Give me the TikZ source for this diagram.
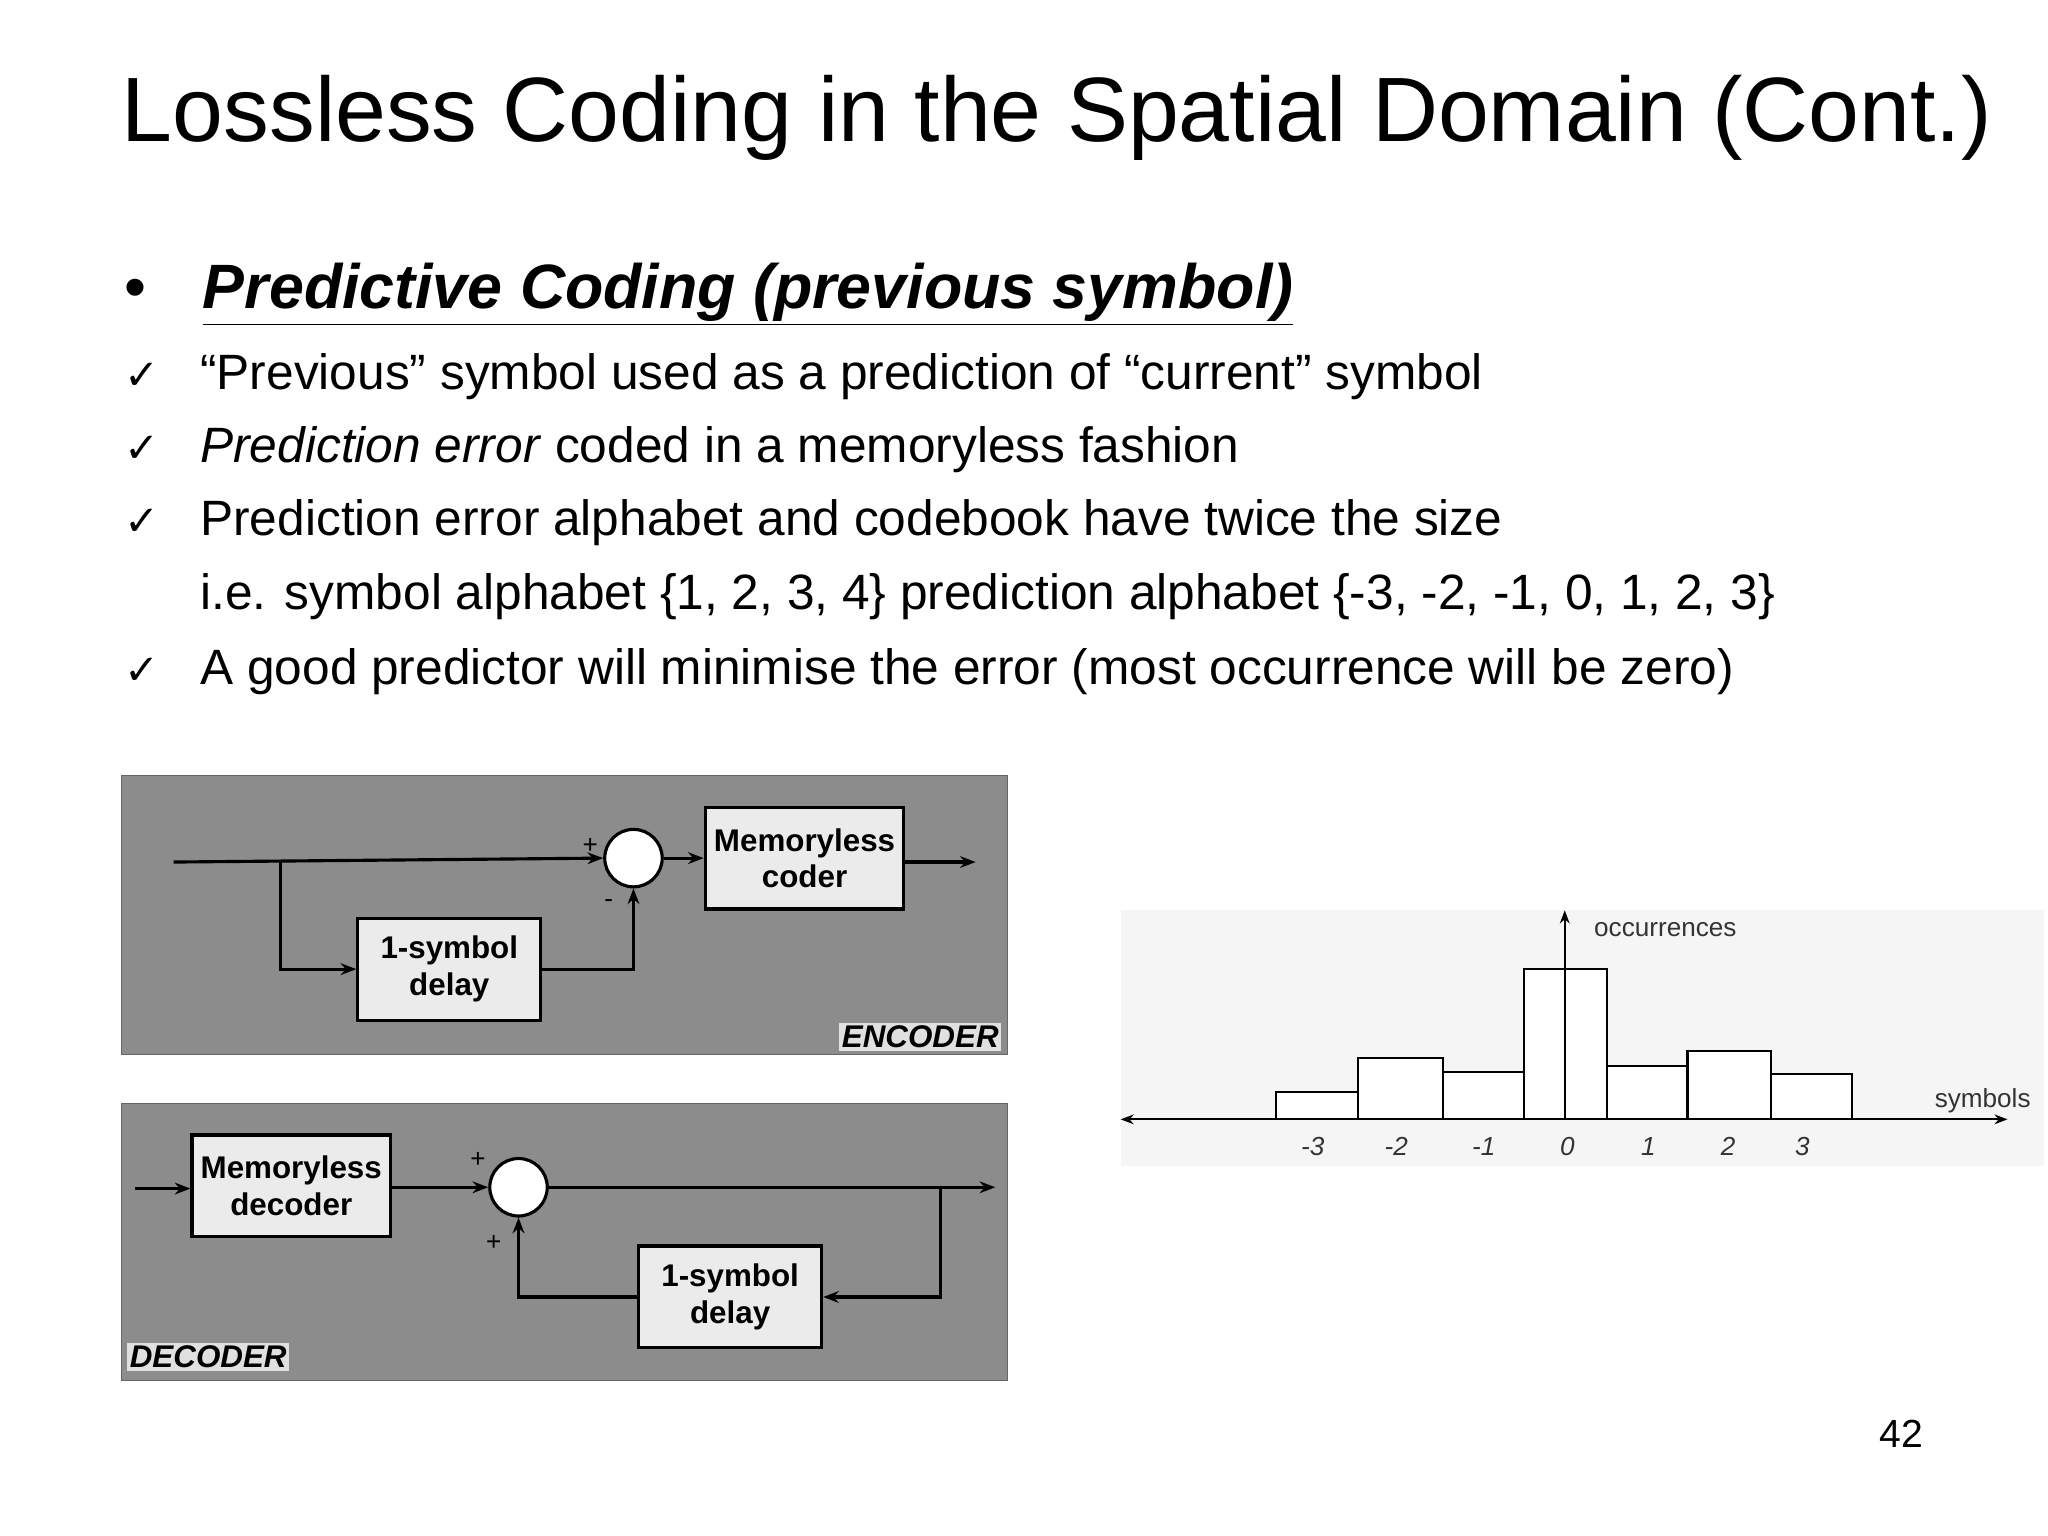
\documentclass[tikz,border=0pt]{standalone}
\usepackage{fontspec}
\setmainfont{Liberation Sans}
\newfontfamily\dejavu{DejaVu Sans}
\usetikzlibrary{arrows.meta}
\tikzset{
 panel/.style={fill=black!45,draw=black!60},
 blk/.style={draw=black,line width=1.2pt,fill=white!92!black,font=\fontsize{12}{14}\selectfont\bfseries,align=center,inner sep=0pt},
 sumc/.style={circle,draw=black,line width=1.2pt,fill=white,minimum size=22pt,inner sep=0pt},
 sig/.style={line width=1.2pt,-{Stealth[length=6pt]}},
 wire/.style={line width=1.2pt},
 tag/.style={fill=white!88!black,font=\fontsize{12}{14}\selectfont\bfseries\itshape,inner sep=1pt},
 chk/.style={anchor=base west,font=\dejavu\fontsize{16}{18}\selectfont},
 txt/.style={anchor=base west,font=\fontsize{19}{22}\selectfont},
 bar/.style={draw=black,fill=white,line width=0.8pt},
 sm/.style={font=\fontsize{10}{12}\selectfont,text=black!80}
}
\begin{document}
\begin{tikzpicture}[x=0.5pt,y=-0.5pt]
\useasboundingbox (0,0) rectangle (1568,1176);
\node[anchor=base west,font=\fontsize{35}{40}\selectfont,inner sep=0] (title) at (93,108) {Lossless Coding in the Spatial Domain (Cont.)};
\node[anchor=base west,font=\fontsize{24}{28}\selectfont,inner sep=0] (bul) at (95,236) {•};
\node[anchor=base west,font=\fontsize{24}{28}\selectfont\bfseries\itshape,inner sep=0] (h1) at (155,236) {\underline{Predictive Coding (previous symbol)}};
\node[chk,inner sep=0] (c1) at (95,298) {✓};
\node[txt,inner sep=0] (t1) at (153,298) {“Previous” symbol used as a prediction of “current” symbol};
\node[chk,inner sep=0] (c2) at (95,354) {✓};
\node[txt,inner sep=0] (t2) at (153,354) {\textit{Prediction error} coded in a memoryless fashion};
\node[chk,inner sep=0] (c3) at (95,410) {✓};
\node[txt,inner sep=0] (t3) at (153,410) {Prediction error alphabet and codebook have twice the size};
\node[txt,inner sep=0] (t4) at (153,467) {i.e. symbol alphabet \{1, 2, 3, 4\} prediction alphabet \{-3, -2, -1, 0, 1, 2, 3\}};
\node[chk,inner sep=0] (c5) at (95,524) {✓};
\node[txt,inner sep=0] (t5) at (153,524) {A good predictor will minimise the error (most occurrence will be zero)};
% encoder
\fill[panel] (93,594) rectangle (771,807);
\node[blk,minimum width=76pt,minimum height=39pt] (mc) at (616,657) {Memoryless\\coder};
\node[blk,minimum width=70pt,minimum height=39pt] (ed) at (344,742) {1-symbol\\delay};
\node[sumc] (es) at (485,657) {};
\coordinate (ein) at (133,660);
\coordinate (ebr) at (215,660);
\coordinate (eout) at (747,660);
\draw[sig] (ein) -- (es.west);
\draw[sig] (ebr) |- (ed.west);
\draw[sig] (ed.east) -| (es.south);
\draw[sig] (es.east) -- (mc.west);
\draw[sig] (mc.east|-eout) -- (eout);
\node[sm,text=black] (ep) at (452,648) {+};
\node[sm,text=black] (em) at (466,692) {-};
\node[tag,anchor=south east] (enc) at (767,805) {ENCODER};
% decoder
\fill[panel] (93,845) rectangle (771,1057);
\node[blk,minimum width=76pt,minimum height=39pt] (md) at (223,908) {Memoryless\\decoder};
\node[blk,minimum width=70pt,minimum height=39pt] (dd) at (559,993) {1-symbol\\delay};
\node[sumc] (ds) at (397,909) {};
\coordinate (din) at (103,910);
\coordinate (dout) at (762,909);
\coordinate (dbr) at (720,909);
\draw[sig] (din) -- (md.west|-din);
\draw[sig] (md.east|-ds) -- (ds.west);
\draw[sig] (ds.east) -- (dout);
\draw[sig] (dbr) |- (dd.east);
\draw[sig] (dd.west) -| (ds.south);
\node[sm,text=black] (dp1) at (366,888) {+};
\node[sm,text=black] (dp2) at (378,952) {+};
\node[tag,anchor=south west] (dec) at (97,1050) {DECODER};
% histogram
\fill[black!4] (858,697) rectangle (1565,893);
\draw[bar] (977,857) rectangle (1040,836);
\draw[bar] (1040,857) rectangle (1105,810);
\draw[bar] (1105,857) rectangle (1167,821);
\draw[bar] (1167,857) rectangle (1230,742);
\draw[bar] (1230,857) rectangle (1292,816);
\draw[bar] (1292,857) rectangle (1356,805);
\draw[bar] (1356,857) rectangle (1418,822);
\coordinate (xl) at (858,857);
\coordinate (xr) at (1537,857);
\coordinate (yo) at (1198,857);
\coordinate (yt) at (1198,697);
\draw[line width=0.8pt,{Stealth[length=5pt]}-{Stealth[length=5pt]}] (xl) -- (xr);
\draw[line width=0.8pt,-{Stealth[length=5pt]}] (yo) -- (yt);
\node[sm] (occ) at (1275,712) {occurrences};
\node[sm] (sym) at (1518,843) {symbols};
\foreach \v/\x in {-3/1005,-2/1069,-1/1136,0/1200,1/1262,2/1323,3/1380}
  \node[sm,font=\fontsize{10}{12}\selectfont\itshape] at (\x,878) {\v};
\node[anchor=base,font=\fontsize{15}{18}\selectfont] (pg) at (1456,1108) {42};
\end{tikzpicture}
\end{document}
